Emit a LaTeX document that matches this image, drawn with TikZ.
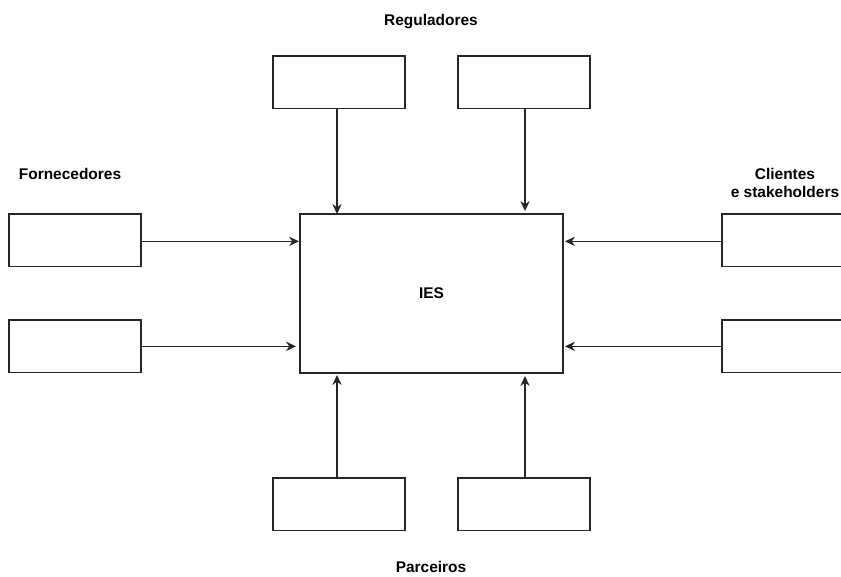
\documentclass[tikz,border=0pt]{standalone}
\usepackage{fontspec}
\setmainfont{Liberation Sans}
\usetikzlibrary{arrows.meta}
\begin{document}
\begin{tikzpicture}[x=0.75pt,y=-0.75pt,
  box/.style={draw=black!85,line width=0.95pt,fill=white,minimum width=99pt,minimum height=39.5pt,inner sep=0pt,outer sep=0pt,anchor=north west},
  mainbox/.style={draw=black!85,line width=0.95pt,fill=white,inner sep=0pt,outer sep=0pt,anchor=north west,minimum width=197.25pt,minimum height=119.25pt,font=\bfseries\fontsize{11.6pt}{14pt}\selectfont},
  lbl/.style={font=\bfseries\fontsize{11.6pt}{14pt}\selectfont,inner sep=0pt,align=center},
  link/.style={draw=black!85,line width=0.95pt,-{Stealth[length=7.5pt,width=7pt,inset=2.5pt]}}]
\useasboundingbox (0,0) rectangle (841,576);
\clip (0,0) rectangle (841,576);

% central institution
\node[mainbox] (ies) at (300,214) {IES};

% regulators above
\node[box] (t1) at (273,56) {};
\node[box] (t2) at (458,56) {};
% suppliers on the left
\node[box] (l1) at (9,214) {};
\node[box] (l2) at (9,320) {};
% clients on the right
\node[box] (r1) at (722,214) {};
\node[box] (r2) at (722,320) {};
% partners below
\node[box] (b1) at (273,478) {};
\node[box] (b2) at (458,478) {};

% group labels
\node[lbl] (lt) at (431,22) {Reguladores};
\node[lbl] (ll) at (70,174) {Fornecedores};
\node[lbl] (lr) at (785,183) {Clientes\\ e stakeholders};
\node[lbl] (lb) at (431,567) {Parceiros};

% flows into the institution
\draw[link] ([xshift=-1.5pt]t1.south) -- ([xshift=-1.5pt]t1.south |- ies.north);
\draw[link,shorten >=2.25pt] ([xshift=0.75pt]t2.south) -- ([xshift=0.75pt]t2.south |- ies.north);
\draw[link,shorten >=0.75pt] ([yshift=-0.75pt]l1.east) -- ([yshift=-0.75pt]l1.east -| ies.west);
\draw[link,shorten >=3pt] (l2.east) -- (l2.east -| ies.west);
\draw[link,shorten >=1.5pt] ([yshift=-0.75pt]r1.west) -- ([yshift=-0.75pt]r1.west -| ies.east);
\draw[link,shorten >=1.5pt] (r2.west) -- (r2.west -| ies.east);
\draw[link,shorten >=1.5pt] ([xshift=-1.5pt]b1.north) -- ([xshift=-1.5pt]b1.north |- ies.south);
\draw[link,shorten >=2.25pt] ([xshift=0.75pt]b2.north) -- ([xshift=0.75pt]b2.north |- ies.south);
\end{tikzpicture}
\end{document}
